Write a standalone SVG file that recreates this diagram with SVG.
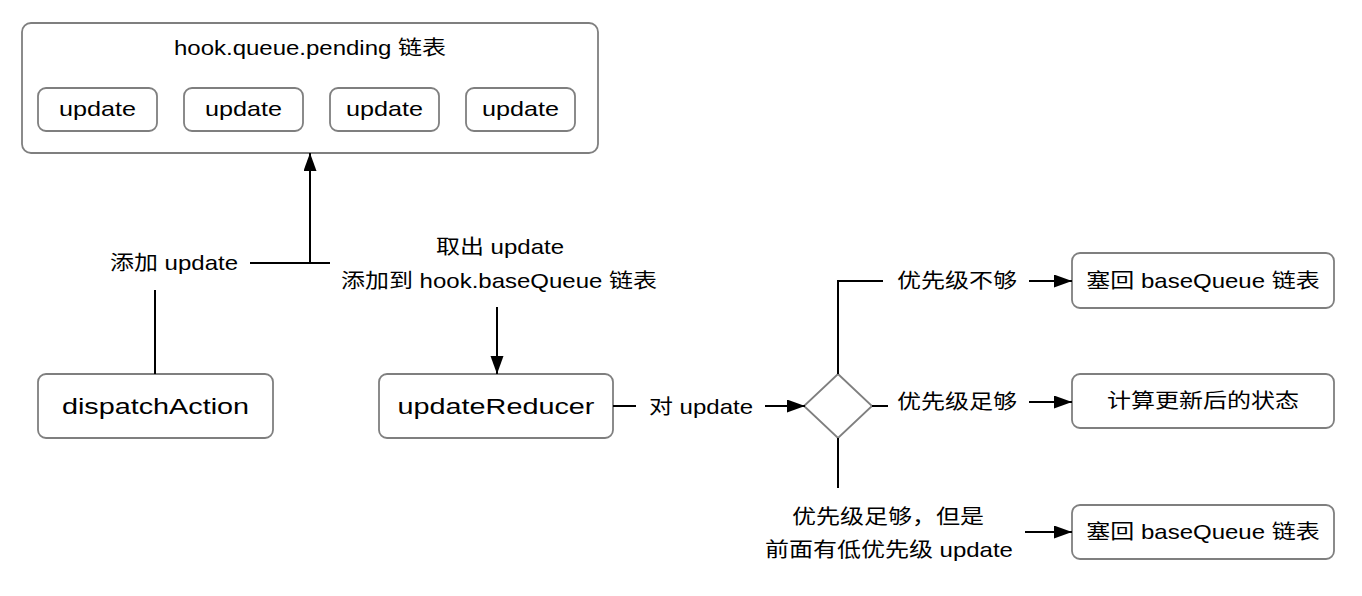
<svg xmlns="http://www.w3.org/2000/svg" width="1362" height="596" viewBox="0 0 1362 596">
<style>
.box{fill:#fff;stroke:#7f7f7f;stroke-width:1.8}
.t{font-family:"Liberation Sans","Noto Sans CJK SC",sans-serif;font-size:20px;fill:#000;text-anchor:middle}
.big{font-size:22.5px}
.c{fill:none;stroke:#000;stroke-width:2}
</style>
<defs>
<marker id="ah" markerUnits="userSpaceOnUse" markerWidth="19" markerHeight="14" refX="18" refY="6.5" orient="auto">
<path d="M0,0 L18,6.5 L0,13 z" fill="#000"/>
</marker>
</defs>
<rect width="1362" height="596" fill="#fff"/>
<g id="pending-list">
<rect class="box" x="22" y="23" width="576" height="130" rx="9"/>
<text class="t" x="310" y="55" transform="matrix(1.2 0 0 1 -62 0)">hook.queue.pending 链表</text>
</g>
<g id="update1"><rect class="box" x="38" y="88" width="119" height="43" rx="8"/><text class="t" x="97.5" y="116" transform="matrix(1.26 0 0 1 -25.35 0)">update</text></g>
<g id="update2"><rect class="box" x="184" y="88" width="119" height="43" rx="8"/><text class="t" x="243.5" y="116" transform="matrix(1.26 0 0 1 -63.31 0)">update</text></g>
<g id="update3"><rect class="box" x="330" y="88" width="109" height="43" rx="8"/><text class="t" x="384.5" y="116" transform="matrix(1.26 0 0 1 -99.97 0)">update</text></g>
<g id="update4"><rect class="box" x="466" y="88" width="109" height="43" rx="8"/><text class="t" x="520.5" y="116" transform="matrix(1.26 0 0 1 -135.33 0)">update</text></g>
<g id="dispatchAction"><rect class="box" x="38" y="374" width="235" height="64" rx="8"/><text class="t big" x="155.5" y="414" transform="matrix(1.28 0 0 1 -43.54 0)">dispatchAction</text></g>
<g id="updateReducer"><rect class="box" x="379" y="374" width="234" height="64" rx="8"/><text class="t big" x="496" y="414" transform="matrix(1.28 0 0 1 -138.88 0)">updateReducer</text></g>
<g id="decision"><path class="box" d="M838,374 L872,406 L838,438 L804,406 Z"/></g>
<g id="putback1"><rect class="box" x="1072" y="253" width="262" height="55" rx="8"/><text class="t" x="1203" y="288" transform="matrix(1.2 0 0 1 -240.6 0)">塞回 baseQueue 链表</text></g>
<g id="compute"><rect class="box" x="1072" y="374" width="262" height="54" rx="8"/><text class="t" x="1203" y="408" transform="matrix(1.2 0 0 1 -240.6 0)">计算更新后的状态</text></g>
<g id="putback2"><rect class="box" x="1072" y="505" width="262" height="54" rx="8"/><text class="t" x="1203" y="539" transform="matrix(1.2 0 0 1 -240.6 0)">塞回 baseQueue 链表</text></g>
<g id="connectors">
<path class="c" d="M155,374 L155,290"/>
<path class="c" d="M250,263 L330,263"/>
<path class="c" d="M310,263 L310,153" marker-end="url(#ah)"/>
<text class="t" x="174" y="270" transform="matrix(1.2 0 0 1 -34.8 0)">添加 update</text>
<text class="t" x="500" y="254" transform="matrix(1.2 0 0 1 -100 0)">取出 update</text>
<text class="t" x="499" y="288" transform="matrix(1.2 0 0 1 -99.8 0)">添加到 hook.baseQueue 链表</text>
<path class="c" d="M497,307 L497,374" marker-end="url(#ah)"/>
<path class="c" d="M613,406 L636,406"/>
<text class="t" x="701" y="414" transform="matrix(1.2 0 0 1 -140.2 0)">对 update</text>
<path class="c" d="M765,406 L805,406" marker-end="url(#ah)"/>
<path class="c" d="M838,374 L838,281 L883,281"/>
<text class="t" x="957" y="288" transform="matrix(1.2 0 0 1 -191.4 0)">优先级不够</text>
<path class="c" d="M1029,281 L1072,281" marker-end="url(#ah)"/>
<path class="c" d="M872,406 L888,406"/>
<text class="t" x="957" y="409" transform="matrix(1.2 0 0 1 -191.4 0)">优先级足够</text>
<path class="c" d="M1029,402 L1072,402" marker-end="url(#ah)"/>
<path class="c" d="M838,438 L838,488"/>
<text class="t" x="888" y="524" transform="matrix(1.2 0 0 1 -177.6 0)">优先级足够，但是</text>
<text class="t" x="889" y="557" transform="matrix(1.2 0 0 1 -177.8 0)">前面有低优先级 update</text>
<path class="c" d="M1025,532 L1072,532" marker-end="url(#ah)"/>
</g>
</svg>
